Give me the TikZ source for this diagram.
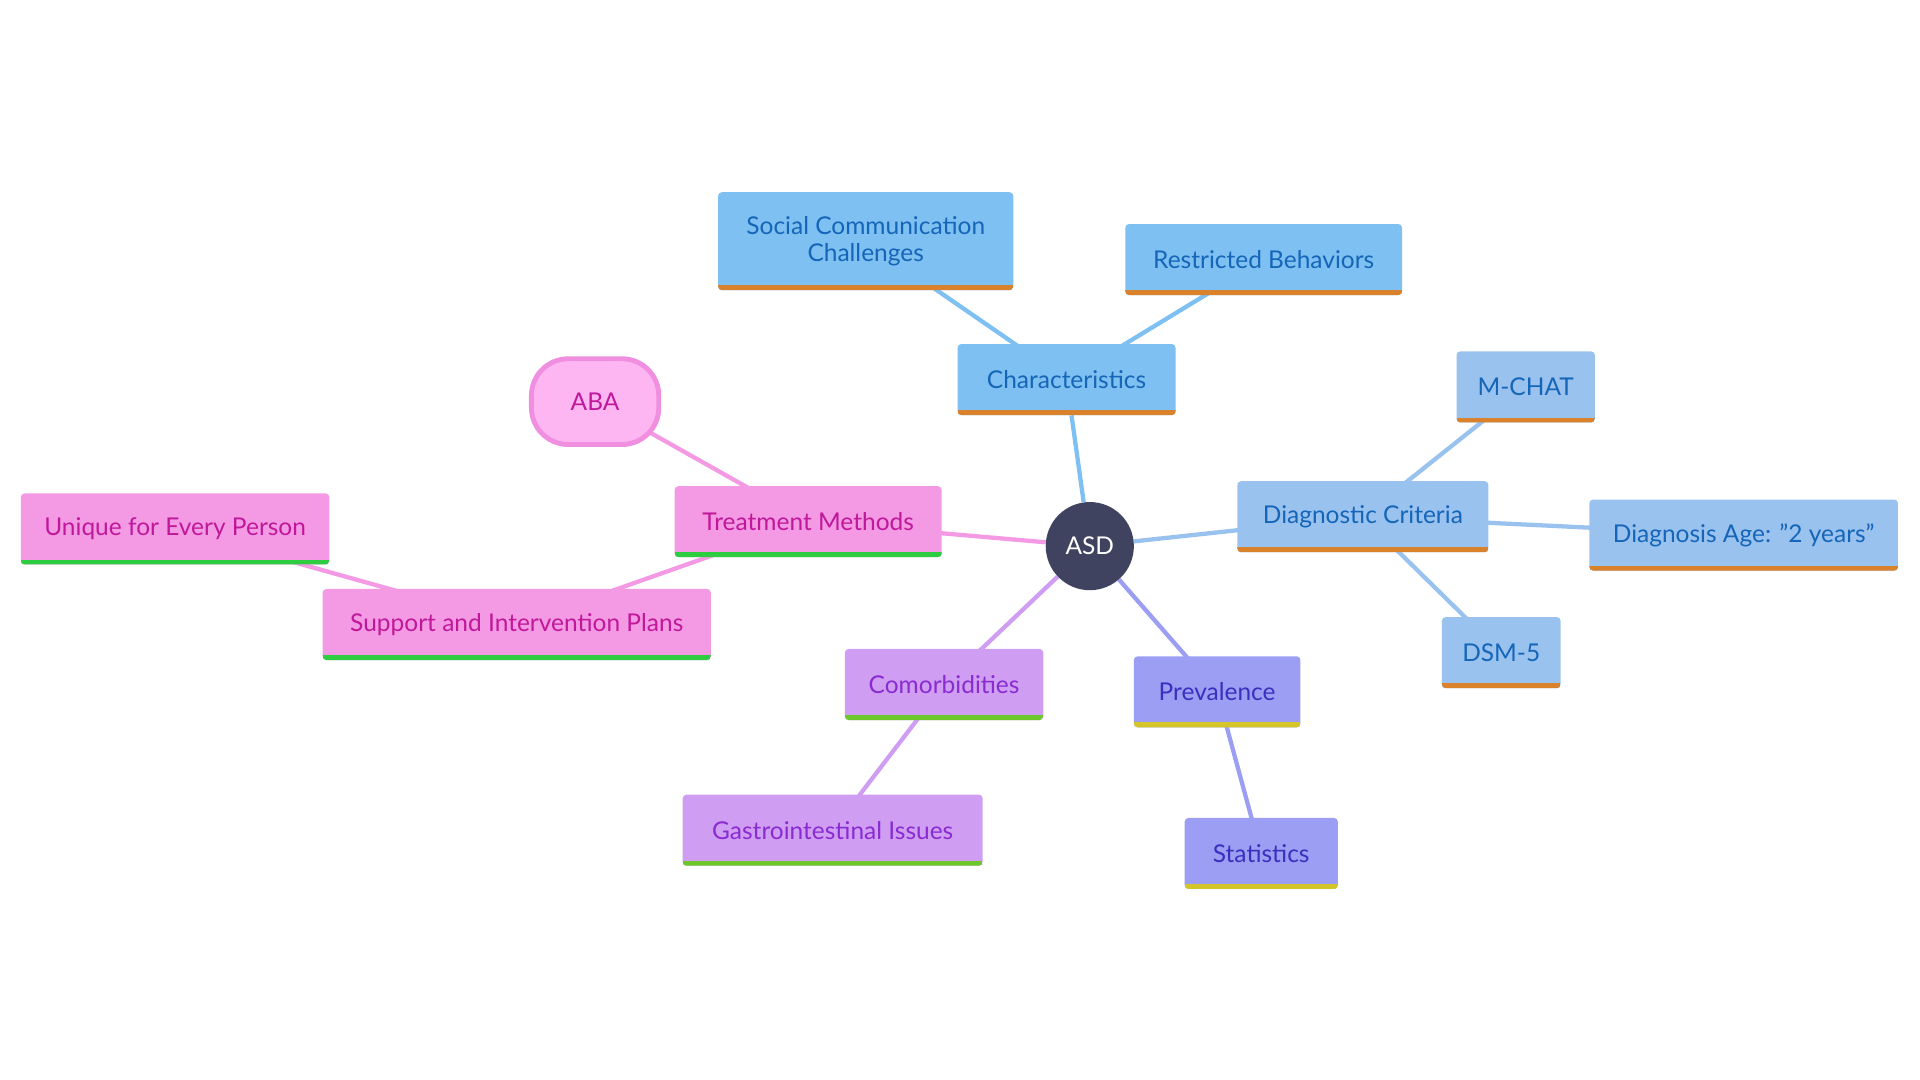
\documentclass[tikz,border=0pt]{standalone}
\usepackage{fontspec}
\setmainfont{Lato}
\usetikzlibrary{backgrounds}
\definecolor{hubfill}{HTML}{3F4360}
\definecolor{chfill}{HTML}{7DC0F1}
\definecolor{chtext}{HTML}{1565B8}
\definecolor{dgfill}{HTML}{99C2EF}
\definecolor{orangeb}{HTML}{D9822B}
\definecolor{prfill}{HTML}{9B9EF2}
\definecolor{prtext}{HTML}{3B2FC0}
\definecolor{yellowb}{HTML}{D4C62A}
\definecolor{cofill}{HTML}{CF9EF2}
\definecolor{cotext}{HTML}{8A2BD2}
\definecolor{greenc}{HTML}{6CC72A}
\definecolor{trfill}{HTML}{F49AE4}
\definecolor{trtext}{HTML}{C0189A}
\definecolor{greent}{HTML}{2ECC40}
\definecolor{abafill}{HTML}{FDB6F2}
\definecolor{abadraw}{HTML}{F08EE0}
\tikzset{
  topic/.style 2 args={rectangle,rounded corners=3pt,fill=#1,inner sep=2pt,align=center,
    font=\fontsize{20}{22}\selectfont,
    path picture={\draw[line width=8pt,#2] (path picture bounding box.south west) -- (path picture bounding box.south east);}},
  link/.style={line width=3.5pt}
}

\begin{document}
\begin{tikzpicture}[x=1pt,y=-1pt]
  \useasboundingbox (0,0) rectangle (1568,882);

  \node[circle,fill=hubfill,text=white,minimum size=72pt,font=\fontsize{20}{22}\selectfont] (asd) at (890,446) {ASD};

  \node[topic={chfill}{orangeb},text=chtext,minimum width=178pt,minimum height=58pt] (char) at (871,310) {Characteristics};
  \node[topic={chfill}{orangeb},text=chtext,minimum width=241pt,minimum height=80pt] (social) at (707,197) {Social Communication\\Challenges};
  \node[topic={chfill}{orangeb},text=chtext,minimum width=226pt,minimum height=58pt] (restr) at (1032,212) {Restricted Behaviors};

  \node[topic={dgfill}{orangeb},text=chtext,minimum width=205pt,minimum height=58pt] (diag) at (1113,422) {Diagnostic Criteria};
  \node[topic={dgfill}{orangeb},text=chtext,minimum width=113pt,minimum height=58pt] (mchat) at (1246,316) {M-CHAT};
  \node[topic={dgfill}{orangeb},text=chtext,minimum width=252pt,minimum height=58pt] (age) at (1424,437) {Diagnosis Age: "2 years"};
  \node[topic={dgfill}{orangeb},text=chtext,minimum width=97pt,minimum height=58pt] (dsm) at (1226,533) {DSM-5};

  \node[topic={prfill}{yellowb},text=prtext,minimum width=136pt,minimum height=58pt] (prev) at (994,565) {Prevalence};
  \node[topic={prfill}{yellowb},text=prtext,minimum width=125pt,minimum height=58pt] (stats) at (1030,697) {Statistics};

  \node[topic={cofill}{greenc},text=cotext,minimum width=162pt,minimum height=58pt] (comor) at (771,559) {Comorbidities};
  \node[topic={cofill}{greenc},text=cotext,minimum width=245pt,minimum height=58pt] (gastro) at (680,678) {Gastrointestinal Issues};

  \node[topic={trfill}{greent},text=trtext,minimum width=218pt,minimum height=58pt] (treat) at (660,426) {Treatment Methods};
  \node[rectangle,rounded corners=30pt,fill=abafill,draw=abadraw,line width=4pt,text=trtext,
        minimum width=104pt,minimum height=70pt,font=\fontsize{20}{22}\selectfont] (aba) at (486,328) {ABA};
  \node[topic={trfill}{greent},text=trtext,minimum width=317pt,minimum height=58pt] (plans) at (422,510) {Support and Intervention Plans};
  \node[topic={trfill}{greent},text=trtext,minimum width=252pt,minimum height=58pt] (unique) at (143,432) {Unique for Every Person};

  \begin{pgfonlayer}{background}
    \draw[link,chfill] (asd) -- (char);
    \draw[link,chfill] (char.center) -- (social.center);
    \draw[link,chfill] (char.center) -- (restr.center);
    \draw[link,dgfill] (asd) -- (diag.center);
    \draw[link,dgfill] (diag.center) -- (mchat.center);
    \draw[link,dgfill] (diag.center) -- (age.center);
    \draw[link,dgfill] (diag.center) -- (dsm.center);
    \draw[link,prfill] (asd) -- (prev.center);
    \draw[link,prfill] (prev.center) -- (stats.center);
    \draw[link,cofill] (asd) -- (comor.center);
    \draw[link,cofill] (comor.center) -- (gastro.center);
    \draw[link,trfill] (asd) -- (treat.center);
    \draw[link,trfill] (treat.center) -- (aba.center);
    \draw[link,trfill] (treat.center) -- (plans.center);
    \draw[link,trfill] (plans.center) -- (unique.center);
  \end{pgfonlayer}
\end{tikzpicture}
\end{document}
